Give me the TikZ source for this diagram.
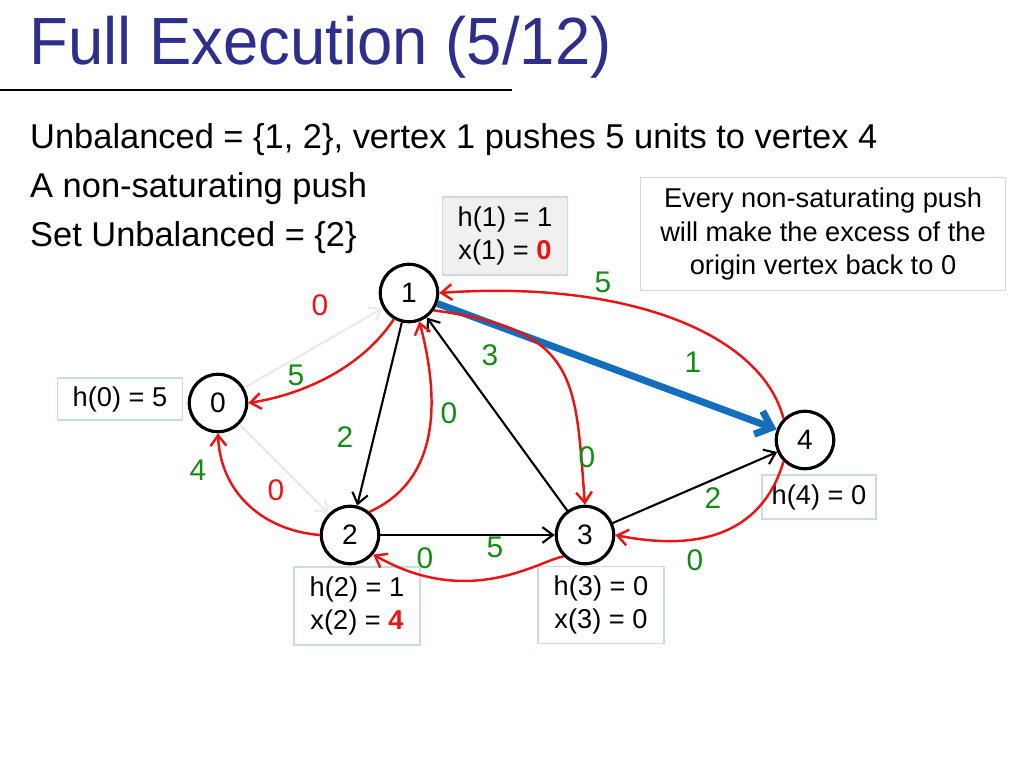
\documentclass[tikz,border=0pt]{standalone}
\usepackage{fontspec}
\setmainfont{Liberation Sans}
\usetikzlibrary{arrows.meta}
\definecolor{tblue}{RGB}{46,46,140}
\definecolor{gr}{RGB}{20,140,20}
\definecolor{rd}{RGB}{235,20,20}
\definecolor{bl}{RGB}{20,110,190}
\definecolor{bx}{RGB}{200,220,220}
\begin{document}
\begin{tikzpicture}[x=0.02cm,y=-0.02cm,
  vtx/.style={circle,draw,line width=1.8pt,minimum size=1.15cm,inner sep=0pt,font=\fontsize{16}{18}\selectfont,fill=white},
  ib/.style={draw=bx,line width=0.6pt,align=center,font=\fontsize{15.5}{19}\selectfont,inner sep=2pt},
  blk/.style={draw,line width=1.2pt,-{Straight Barb[length=6pt,width=9pt]}},
  red/.style={draw=rd,line width=1.4pt,-{Straight Barb[length=6pt,width=9pt]}},
  lg/.style={draw=black!8,line width=1.3pt,-{Straight Barb[length=6pt,width=9pt]}},
  gl/.style={text=gr,font=\fontsize{17}{19}\selectfont},
  rl/.style={text=rd,font=\fontsize{17}{19}\selectfont},
  tx/.style={anchor=west,font=\fontsize{19.6}{22}\selectfont}]
\useasboundingbox (0,0) rectangle (1024,768);
\node[anchor=west,text=tblue,font=\fontsize{38}{42}\selectfont,xscale=0.95] (title) at (24,47) {Full Execution (5/12)};
\draw[line width=1pt] (0,90) -- (512,90);
\node[tx] (t1) at (24,140) {Unbalanced = \{1, 2\}, vertex 1 pushes 5 units to vertex 4};
\node[tx] (t2) at (24,189) {A non-saturating push};
\node[tx] (t3) at (24,238) {Set Unbalanced = \{2\}};
\node[ib,minimum width=3.65cm*2,minimum height=2.26cm] (note) at (823,234) {Every non-saturating push\\will make the excess of the\\origin vertex back to 0};
\node[ib,fill=black!6,minimum width=2.5cm,minimum height=1.56cm] (b1) at (505,236) {h(1) = 1\\x(1) = \textcolor{rd}{\textbf{0}}};
\node[ib,minimum width=2.5cm,minimum height=0.84cm] (b0) at (120,399) {h(0) = 5};
\node[ib,minimum width=2.52cm,minimum height=1.56cm] (b2) at (357,606) {h(2) = 1\\x(2) = \textcolor{rd}{\textbf{4}}};
\node[ib,minimum width=2.52cm,minimum height=1.54cm] (b3) at (601,605) {h(3) = 0\\x(3) = 0};
\node[ib,minimum width=2.28cm,minimum height=0.88cm] (b4) at (819,497) {h(4) = 0};
\node[vtx] (n1) at (409,293) {1};
\node[vtx] (n0) at (218,403) {0};
\node[vtx] (n2) at (350,535) {2};
\node[vtx] (n3) at (585,535) {3};
\node[vtx] (n4) at (805,440) {4};
\path[lg] (n0) -- (n1);
\path[lg] (n0) -- (n2);
\path[blk] (n1) -- (n2);
\path[blk] (n2) -- (n3);
\path[blk] (n3) -- (n1);
\path[blk] (n3) -- (n4);
\path[draw=bl,line width=4pt,-{Straight Barb[length=8pt,width=14pt]}] (n1) -- (n4);
\path[red] (n1.240) .. controls (360,370) and (300,395) .. (n0.east);
\path[red] (n2.west) .. controls (260,530) and (220,490) .. (n0.south);
\path[red] (n2.50) .. controls (440,480) and (440,400) .. (n1.-70);
\path[red] (n1.-35) .. controls (580,330) and (575,380) .. (n3.north);
\path[red] (n4.north west) .. controls (760,330) and (620,280) .. (n1.east);
\path[red] (n4.south west) .. controls (760,540) and (690,550) .. (n3.east);
\path[red] (n3.south west) .. controls (540,560) and (470,610) .. (n2.-40);
\node[rl] (l01) at (320,305) {0};
\node[rl] (l02) at (276,490) {0};
\node[gl] (l12) at (345,437) {2};
\node[gl] (l23) at (495,547) {5};
\node[gl] (l31) at (490,355) {3};
\node[gl] (l34) at (713,498) {2};
\node[gl] (l14) at (693,362) {1};
\node[gl] (l10) at (296,375) {5};
\node[gl] (l20) at (198,470) {4};
\node[gl] (l21) at (449,413) {0};
\node[gl] (l13) at (587,457) {0};
\node[gl] (l41) at (603,282) {5};
\node[gl] (l43) at (695,560) {0};
\node[gl] (l32) at (425,558) {0};
\end{tikzpicture}
\end{document}
